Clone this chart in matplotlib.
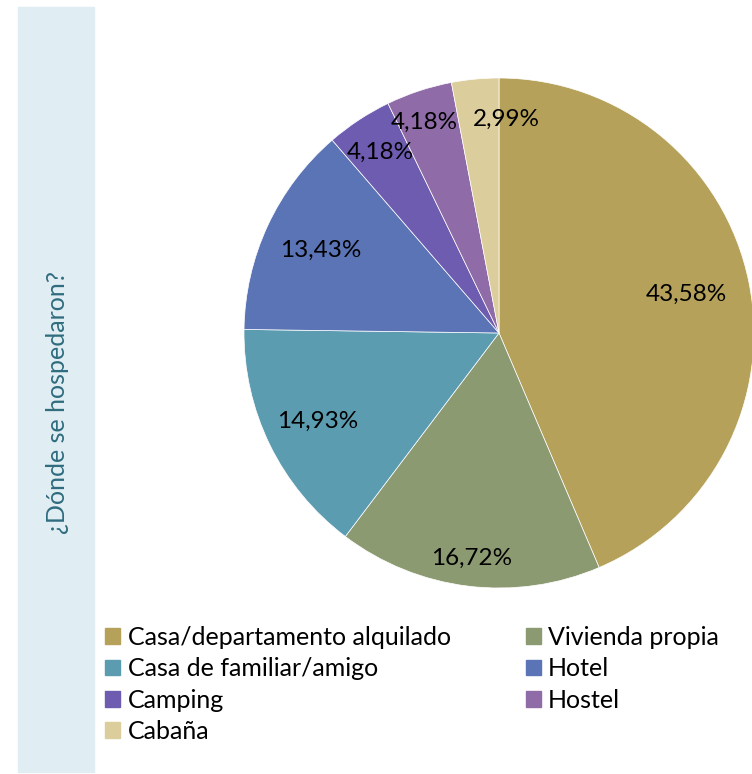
import matplotlib.pyplot as plt
from matplotlib.patches import Patch, Rectangle
import numpy as np

plt.rcParams['font.family'] = ['Lato', 'DejaVu Sans']

categories = ['Casa/departamento alquilado', 'Vivienda propia', 'Casa de familiar/amigo',
              'Hotel', 'Camping', 'Hostel', 'Cabaña']
values = [43.58, 16.72, 14.93, 13.43, 4.18, 4.18, 2.99]
colors = ['#B5A15A', '#8C9A72', '#5C9CB1', '#5B74B6', '#6E5CB1', '#8F6CA7', '#DCCD9C']
label_dist = [0.75, 0.89, 0.79, 0.77, 0.85, 0.87, 0.84]
label_shift = [0, 0, 0, 0, 0, -4, 20]  # points, horizontal nudge

fig = plt.figure(figsize=(7.52, 7.74), dpi=100)

# left band with rotated title
fig.patches.append(Rectangle((18 / 752, 2 / 774), 76 / 752, 765 / 774,
                             transform=fig.transFigure, color='#E0EDF3', zorder=0))
fig.text(58 / 752, 372 / 774, '¿Dónde se hospedaron?', rotation=90, ha='center', va='center',
         fontsize=18, color='#2F6C7E')

ax = fig.add_axes([244 / 752, 186 / 774, 510 / 752, 510 / 774])
wedges, _ = ax.pie(values, colors=colors, startangle=90, counterclock=False,
                   wedgeprops=dict(linewidth=0.5, edgecolor='white'))
ax.set_xlim(-1, 1)
ax.set_ylim(-1, 1)
ax.set_aspect('equal')

for w, v, d, s in zip(wedges, values, label_dist, label_shift):
    ang = np.deg2rad((w.theta1 + w.theta2) / 2)
    ax.annotate(f'{v:.2f}%'.replace('.', ','), (d * np.cos(ang), d * np.sin(ang)),
                xytext=(s, 0), textcoords='offset points',
                ha='center', va='center', fontsize=17.5, color='black')

handles = [Patch(color=c) for c in colors]
order = [0, 2, 4, 6, 1, 3, 5]
fig.legend([handles[i] for i in order], [categories[i] for i in order], ncol=2,
           loc='upper left', bbox_to_anchor=(95 / 752, 1 - 616 / 774), frameon=False,
           fontsize=18, handlelength=0.6, handleheight=0.6, handletextpad=0.3,
           labelspacing=0.33, columnspacing=3.0, borderaxespad=0)

fig.savefig('out.png', dpi=100)
